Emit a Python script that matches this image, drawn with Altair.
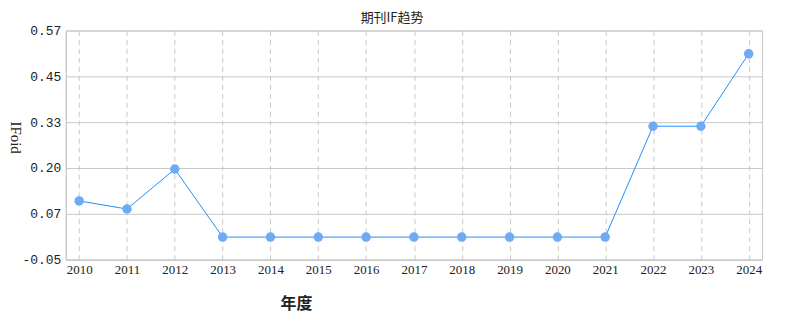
import altair as alt
import pandas as pd

years = [str(y) for y in range(2010, 2025)]
ifoid = [0.109, 0.087, 0.195, 0.011, 0.011, 0.011, 0.011, 0.011, 0.011, 0.011, 0.011, 0.011, 0.311, 0.311, 0.507]
tick_vals = [-0.05, 0.074, 0.198, 0.322, 0.446, 0.57]
tick_text = ['-0.05', '0.07', '0.20', '0.33', '0.45', '0.57']

df = pd.DataFrame({"year": years, "ifoid": ifoid})

label_expr = "[" + ",".join("'%s'" % t for t in tick_text) + "][round((datum.value+0.05)/0.124)]"

x = alt.X("year:O", scale=alt.Scale(type="point", padding=0.28),
          axis=alt.Axis(title="年度", labelAngle=0, labelFont="Liberation Serif", labelFontSize=13,
                        labelColor="#222", labelPadding=4, ticks=False, domainColor="#c8c8c8",
                        grid=True, gridDash=[5, 4], gridColor="#c8c8c8",
                        titleFont="Liberation Serif, Noto Sans CJK SC", titleFontSize=16, titleFontWeight="bold",
                        titleColor="#222", titleX=231, titleY=44, titleAlign="center", titleBaseline="middle"))
y = alt.Y("ifoid:Q", scale=alt.Scale(domain=[-0.05, 0.57], nice=False, zero=False),
          axis=alt.Axis(title="IFoid", values=tick_vals, labelExpr=label_expr,
                        labelFont="Liberation Mono", labelFontSize=13, labelColor="#222", labelPadding=5,
                        ticks=False, domainColor="#c8c8c8", gridColor="#c8c8c8",
                        titleFont="Liberation Serif", titleFontSize=15, titleFontWeight="normal", titleColor="#222",
                        titleAngle=90, titleX=-50, titleY=107, titleAlign="center", titleBaseline="middle"))

line = alt.Chart(df).mark_line(color="#1e90ff", strokeWidth=1).encode(x=x, y=y)
pts = alt.Chart(df).mark_circle(color="#6eaaf5", opacity=1, size=90).encode(x=x, y=y)

chart = (line + pts).properties(
    width=699, height=230,
    padding={"left": 58, "top": 22, "right": 20, "bottom": 62},
    autosize=alt.AutoSizeParams(type="none"),
    title=alt.TitleParams("期刊IF趋势", fontSize=13, font="Noto Sans CJK SC", fontWeight="normal",
                          color="#222", anchor="middle", dx=-22, offset=0, dy=0),
).configure_view(stroke="#c8c8c8", strokeWidth=1)

chart.save("out.html", embed_options={"renderer": "svg", "actions": False})
